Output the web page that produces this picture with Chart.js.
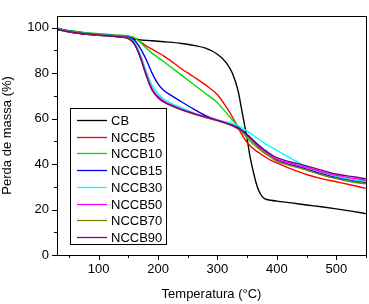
<!DOCTYPE html>
<html>
<head>
<meta charset="utf-8">
<script src="https://cdn.jsdelivr.net/npm/chart.js@4"></script>
<style>
  html, body { margin: 0; padding: 0; background: #fff; }
</style>
</head>
<body>
<canvas id="chart" width="369" height="304"></canvas>
<script>
// temperatura (°C)
const temps = [30, 50, 75, 100, 125, 150, 160, 170, 180, 190, 200, 210, 220, 240, 260, 280, 300, 315, 325, 335, 340, 345, 350, 355, 360, 365, 370, 375, 380, 390, 400, 425, 450, 475, 500, 525, 550];

const labels = ['CB', 'NCCB5', 'NCCB10', 'NCCB15', 'NCCB30', 'NCCB50', 'NCCB70', 'NCCB90'];

const cb     = [99.2, 98.0, 97.2, 96.6, 96.2, 95.5, 95.0, 94.6, 94.4, 94.2, 94.0, 93.8, 93.6, 93.0, 92.2, 91.0, 88.3, 84.5, 80.0, 72.0, 65.0, 58.0, 51.0, 43.0, 37.0, 31.8, 28.0, 25.8, 24.7, 24.1, 23.7, 22.9, 22.0, 21.2, 20.3, 19.3, 18.2];
const nccb5  = [99.6, 98.6, 97.8, 97.2, 96.7, 96.2, 95.5, 93.8, 92.0, 90.5, 89.0, 87.5, 85.7, 81.8, 78.4, 74.8, 70.5, 65.0, 60.8, 56.0, 53.5, 51.3, 49.5, 48.1, 46.8, 45.8, 45.0, 44.0, 43.2, 41.6, 40.5, 37.8, 35.4, 33.6, 32.2, 30.8, 29.3];
const nccb10 = [99.8, 98.8, 97.9, 97.3, 96.8, 96.3, 95.6, 93.6, 91.0, 88.8, 86.8, 85.0, 83.0, 79.0, 75.0, 71.0, 67.0, 62.5, 59.5, 56.5, 54.6, 53.0, 51.5, 50.0, 48.8, 47.7, 46.6, 45.6, 44.7, 43.0, 41.3, 39.5, 37.5, 35.5, 33.8, 32.5, 31.5];
const nccb15 = [99.5, 98.5, 97.6, 97.0, 96.5, 95.8, 94.5, 91.0, 86.0, 80.0, 75.3, 72.3, 70.5, 67.3, 64.2, 61.3, 59.3, 58.2, 57.3, 56.0, 55.2, 54.2, 53.0, 51.8, 50.5, 49.3, 48.1, 47.0, 46.0, 43.8, 41.8, 39.6, 37.8, 35.8, 34.2, 33.0, 32.0];
const nccb30 = [99.5, 98.4, 97.5, 96.9, 96.4, 95.5, 93.5, 88.5, 81.0, 74.5, 70.8, 68.5, 67.0, 64.7, 62.5, 60.5, 59.2, 58.5, 57.8, 56.8, 56.2, 55.3, 54.5, 53.6, 52.7, 51.7, 50.8, 49.9, 49.0, 47.5, 46.0, 42.3, 38.9, 36.5, 34.6, 33.3, 32.4];
const nccb50 = [99.4, 98.3, 97.4, 96.8, 96.3, 95.3, 93.0, 87.5, 79.8, 73.2, 69.8, 67.7, 66.3, 64.0, 62.3, 60.8, 59.3, 58.0, 57.0, 55.6, 54.8, 53.8, 52.6, 51.3, 50.0, 48.8, 47.6, 46.5, 45.4, 43.7, 42.2, 40.2, 38.5, 36.6, 35.0, 33.8, 32.9];
const nccb70 = [99.4, 98.3, 97.4, 96.8, 96.3, 95.3, 93.0, 87.3, 79.3, 72.8, 69.3, 67.3, 65.9, 63.7, 62.0, 60.5, 59.0, 57.8, 56.8, 55.4, 54.6, 53.5, 52.3, 51.0, 49.6, 48.3, 47.0, 45.8, 44.8, 43.0, 41.3, 39.2, 37.4, 35.3, 33.6, 32.2, 31.3];
const nccb90 = [99.3, 98.2, 97.3, 96.7, 96.2, 95.2, 92.8, 87.0, 79.0, 72.5, 69.2, 67.2, 66.0, 63.9, 62.2, 60.7, 59.2, 58.0, 57.0, 55.7, 54.9, 53.9, 52.8, 51.6, 50.4, 49.2, 48.0, 46.9, 46.0, 44.3, 42.8, 40.8, 39.2, 37.3, 35.6, 34.5, 33.6];

const series = [cb, nccb5, nccb10, nccb15, nccb30, nccb50, nccb70, nccb90];
const colors = ['#000000', '#ff0000', '#00dd00', '#0000ff', '#00ffff', '#ff00ff', '#808000', '#800080'];

const FONT = '"Liberation Sans", Arial, sans-serif';

// moldura, ticks menores/maiores e legenda
const framePlugin = {
  id: 'frame',
  afterDraw(chart) {
    const ctx = chart.ctx;
    const a = chart.chartArea;
    ctx.save();
    ctx.strokeStyle = '#000';
    ctx.lineWidth = 1;
    ctx.strokeRect(Math.round(a.left) + 0.5, Math.round(a.top) + 0.5, Math.round(a.right - a.left), Math.round(a.bottom - a.top));

    const xs = chart.scales.x, ys = chart.scales.y;
    ctx.beginPath();
    for (let v = 50; v <= 550; v += 50) {
      const px = Math.round(xs.getPixelForValue(v)) + 0.5;
      const len = v % 100 === 0 ? 5 : 3;
      ctx.moveTo(px, Math.round(a.bottom));
      ctx.lineTo(px, Math.round(a.bottom) + len);
    }
    for (let v = 0; v <= 100; v += 10) {
      const py = Math.round(ys.getPixelForValue(v)) + 0.5;
      const len = v % 20 === 0 ? 5 : 3;
      ctx.moveTo(Math.round(a.left), py);
      ctx.lineTo(Math.round(a.left) - len, py);
    }
    ctx.stroke();

    // legenda
    const bx = 70.5, by = 108.5, bw = 96, bh = 136;
    ctx.fillStyle = '#fff';
    ctx.fillRect(bx, by, bw, bh);
    ctx.strokeRect(bx, by, bw, bh);
    ctx.font = '13px ' + FONT;
    ctx.textBaseline = 'middle';
    labels.forEach((lab, i) => {
      const y = Math.round(120 + i * 16.7) + 0.5;
      ctx.strokeStyle = colors[i];
      ctx.lineWidth = 1.3;
      ctx.beginPath();
      ctx.moveTo(77, y);
      ctx.lineTo(107, y);
      ctx.stroke();
      ctx.fillStyle = '#000';
      ctx.fillText(lab, 111, y + 1);
    });
    ctx.restore();
  }
};

const ctx = document.getElementById('chart').getContext('2d');
const myChart = new Chart(ctx, {
  type: 'line',
  data: {
    datasets: series.map((vals, i) => ({
      label: labels[i],
      data: vals.map((v, j) => ({ x: temps[j], y: v })),
      borderColor: colors[i],
      backgroundColor: colors[i],
      borderWidth: 1.4,
      pointRadius: 0,
      cubicInterpolationMode: 'monotone',
      order: series.length - i
    }))
  },
  options: {
    responsive: false,
    animation: false,
    layout: { padding: { top: 4, right: 3, left: 0, bottom: 0 } },
    plugins: {
      legend: { display: false },
      tooltip: { enabled: false }
    },
    scales: {
      x: {
        type: 'linear',
        min: 30,
        max: 550,
        afterFit: (s) => { s.height = 49; },
        afterBuildTicks: (s) => { s.ticks = [100, 200, 300, 400, 500].map(v => ({ value: v })); },
        grid: { display: false, drawTicks: false },
        border: { display: false },
        ticks: { color: '#000', padding: 7, font: { family: FONT, size: 13 }, maxRotation: 0 },
        title: { display: true, text: 'Temperatura (°C)', color: '#000', font: { family: FONT, size: 13 }, padding: { top: 4, bottom: 2 } }
      },
      y: {
        min: 0,
        max: 105.2,
        afterFit: (s) => { s.width = 57; },
        afterBuildTicks: (s) => { s.ticks = [0, 20, 40, 60, 80, 100].map(v => ({ value: v })); },
        grid: { display: false, drawTicks: false },
        border: { display: false },
        ticks: { color: '#000', padding: 8, font: { family: FONT, size: 13 } },
        title: { display: true, text: 'Perda de massa (%)', color: '#000', font: { family: FONT, size: 13 }, padding: { top: 0, bottom: 4 } }
      }
    }
  },
  plugins: [framePlugin]
});
</script>
</body>
</html>
